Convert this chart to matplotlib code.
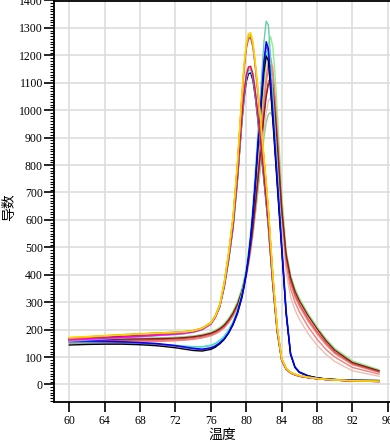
import matplotlib.pyplot as plt
from matplotlib.ticker import MultipleLocator

plt.rcParams['font.family'] = ['Noto Sans CJK SC', 'DejaVu Sans']

temps = [60, 62, 64, 66, 68, 70, 72, 73, 74, 75, 76, 76.5, 77, 77.5, 78, 78.5, 79,
         79.5, 79.75, 80, 80.25, 80.5, 80.75, 81, 81.25, 81.5, 81.75, 82, 82.25, 82.5,
         82.75, 83, 83.25, 83.5,
         84, 84.5, 85, 85.5, 86, 87, 88, 89, 90, 92, 95]

# slow-tail group (peak ~82.6, shoulder after 84)
peach = [153, 154, 155, 156, 157, 158, 160, 162, 165, 170, 178, 185, 194, 207, 226, 250, 282,
         327, 356, 390, 433, 485, 548, 620, 695, 775, 855, 930, 992, 1035, 1045, 1020, 930, 830,
         590, 410, 320, 272, 238, 185, 143, 110, 84, 50, 30]
seagreen = [165, 166, 167, 168, 169, 170, 172, 174, 177, 182, 190, 197, 206, 219, 238, 262, 293,
            338, 367, 400, 442, 490, 548, 615, 685, 760, 832, 900, 955, 985, 992, 975, 900, 810,
            610, 480, 395, 345, 310, 255, 207, 164, 128, 82, 52]
lightgreen = [158, 160, 162, 164, 166, 168, 171, 173, 176, 181, 190, 198, 208, 222, 242, 268, 303,
              352, 385, 425, 475, 535, 605, 690, 780, 880, 985, 1090, 1180, 1245, 1268, 1230, 1130, 1000,
              700, 490, 400, 350, 315, 258, 210, 167, 132, 86, 54]
salmon = [155, 156, 157, 158, 159, 160, 162, 164, 167, 172, 180, 187, 196, 209, 228, 253, 287,
          335, 367, 405, 453, 510, 580, 660, 748, 840, 940, 1040, 1120, 1180, 1190, 1150, 1050, 930,
          660, 460, 370, 320, 285, 230, 185, 145, 113, 72, 45]
coral = [150, 151, 152, 153, 155, 157, 160, 162, 165, 170, 178, 185, 194, 207, 225, 250, 283,
         330, 362, 398, 445, 500, 568, 648, 733, 825, 922, 1020, 1098, 1152, 1165, 1125, 1025, 905,
         640, 440, 350, 300, 265, 210, 165, 128, 100, 62, 38]
indianred = [158, 159, 160, 161, 162, 164, 166, 168, 171, 176, 184, 191, 200, 213, 232, 257, 290,
             337, 368, 404, 450, 505, 572, 648, 728, 815, 903, 990, 1058, 1105, 1118, 1095, 1005, 890,
             640, 462, 378, 328, 293, 238, 192, 152, 118, 76, 46]
darkred = [162, 163, 164, 165, 166, 167, 169, 171, 174, 179, 187, 194, 203, 216, 235, 260, 293,
           340, 372, 408, 454, 508, 574, 648, 728, 812, 897, 980, 1050, 1095, 1100, 1080, 990, 880,
           640, 475, 390, 340, 305, 250, 203, 160, 125, 80, 50]

# fast-tail group with a dip near 75 (peak ~82.3)
aquamarine = [152, 152, 151, 150, 148, 145, 141, 139, 137, 137, 142, 149, 160, 175, 197, 227, 270,
              332, 372, 422, 482, 558, 652, 765, 885, 1005, 1130, 1250, 1325, 1310, 1190, 1060, 925, 790,
              530, 275, 115, 65, 46, 31, 24, 20, 18, 16, 15]
turquoise = [155, 155, 154, 153, 151, 148, 143, 140, 138, 138, 143, 150, 161, 176, 198, 228, 270,
             330, 370, 415, 473, 545, 635, 738, 855, 965, 1075, 1170, 1218, 1195, 1085, 975, 858, 740,
             505, 268, 115, 65, 46, 32, 24, 20, 18, 15, 14]
violet = [156, 156, 155, 154, 151, 147, 140, 135, 130, 127, 132, 139, 150, 165, 187, 217, 257,
          315, 355, 400, 458, 528, 618, 722, 842, 950, 1062, 1170, 1235, 1215, 1095, 980, 858, 738,
          500, 262, 112, 63, 45, 31, 24, 20, 18, 15, 14]
blue_b = [160, 159, 158, 156, 153, 149, 142, 137, 132, 129, 134, 141, 152, 167, 189, 219, 260,
          318, 358, 405, 462, 535, 625, 730, 850, 960, 1070, 1180, 1250, 1225, 1105, 990, 865, 745,
          505, 265, 112, 63, 45, 31, 24, 20, 18, 15, 14]
black = [144, 146, 147, 147, 145, 141, 134, 129, 124, 122, 128, 136, 148, 164, 188, 220, 262,
         322, 362, 408, 465, 535, 622, 720, 832, 940, 1045, 1140, 1198, 1180, 1070, 960, 843, 725,
         492, 258, 110, 62, 44, 31, 24, 20, 18, 15, 14]

# early group (peak ~80.4)
navy = [167, 170, 173, 176, 179, 183, 187, 190, 194, 203, 223, 247, 285, 355, 452, 570, 745,
        955, 1042, 1104, 1133, 1136, 1108, 1052, 981, 905, 824, 742, 660, 572, 465, 362, 274, 190,
        88, 56, 42, 35, 30, 25, 21, 18, 16, 13, 11]
cyan = [158, 162, 166, 170, 174, 178, 182, 185, 190, 199, 219, 244, 282, 353, 453, 572, 750,
        962, 1052, 1115, 1145, 1148, 1120, 1062, 991, 914, 832, 750, 667, 578, 470, 365, 277, 192,
        88, 56, 42, 35, 30, 25, 21, 18, 16, 13, 11]
hotpink = [160, 164, 168, 171, 175, 179, 183, 186, 191, 200, 220, 245, 284, 356, 458, 578, 757,
           970, 1060, 1123, 1153, 1155, 1127, 1070, 998, 920, 838, 756, 672, 582, 474, 368, 279, 194,
           89, 56, 42, 35, 30, 25, 21, 18, 16, 13, 11]
crimson = [165, 168, 171, 174, 178, 182, 186, 189, 193, 202, 222, 246, 285, 358, 460, 580, 760,
           975, 1065, 1128, 1158, 1160, 1132, 1075, 1003, 925, 843, 760, 676, 585, 476, 370, 280, 195,
           90, 57, 43, 36, 31, 25, 21, 18, 16, 13, 11]
magenta = [163, 166, 169, 172, 176, 180, 184, 187, 192, 201, 221, 246, 286, 362, 470, 600, 795,
           1040, 1150, 1225, 1260, 1263, 1230, 1162, 1082, 995, 905, 815, 725, 628, 508, 392, 293, 205,
           92, 57, 43, 36, 31, 25, 21, 18, 16, 13, 11]
olive = [170, 174, 178, 182, 185, 188, 191, 193, 197, 206, 226, 252, 292, 372, 480, 610, 805,
         1050, 1158, 1230, 1265, 1268, 1235, 1168, 1090, 1000, 910, 820, 730, 632, 514, 398, 298, 208,
         96, 60, 45, 38, 33, 27, 22, 19, 17, 14, 12]
orange = [168, 172, 176, 180, 183, 186, 189, 191, 195, 204, 223, 248, 288, 365, 475, 605, 800,
          1050, 1162, 1238, 1273, 1276, 1243, 1175, 1095, 1005, 915, 825, 735, 635, 515, 395, 296, 205,
          92, 58, 43, 36, 31, 25, 21, 18, 16, 13, 11]
yellow = [172, 175, 178, 181, 184, 187, 190, 192, 196, 205, 225, 250, 290, 370, 480, 610, 810,
          1060, 1170, 1245, 1280, 1283, 1250, 1180, 1100, 1010, 920, 830, 740, 640, 520, 400, 300, 210,
          95, 60, 45, 38, 33, 27, 22, 19, 17, 14, 12]

curves = [
    (peach, '#EDBFAF'), (seagreen, '#9CC79C'), (lightgreen, '#90EE90'), (salmon, '#FA8072'),
    (coral, '#F08080'), (indianred, '#D9534F'), (darkred, '#8B1A1A'),
    (aquamarine, '#66CDAA'), (turquoise, '#40E0D0'), (violet, '#8A2BE2'), (black, '#000000'),
    (blue_b, '#0000FF'), (navy, '#00008B'), (cyan, '#00E5EE'), (hotpink, '#FF69B4'),
    (crimson, '#DC143C'), (magenta, '#FF00FF'), (olive, '#7FB000'), (orange, '#FFA500'),
    (yellow, '#FFD700'),
]

fig = plt.figure(figsize=(3.9, 4.42), dpi=100)
ax = fig.add_axes([54 / 390, 40.5 / 442, 336 / 390, 401 / 442])

for values, color in curves:
    ax.plot(temps, values, color=color, lw=1.0)

ax.set_xlim(58.27, 96.24)
ax.set_ylim(-62, 1400)
ax.xaxis.set_major_locator(MultipleLocator(4))
ax.yaxis.set_major_locator(MultipleLocator(100))
ax.yaxis.set_minor_locator(MultipleLocator(10))
ax.grid(True, color='#DDDDDD', lw=1.2)
ax.set_axisbelow(True)

for side in ['left', 'bottom', 'top']:
    ax.spines[side].set_color('black')
    ax.spines[side].set_linewidth(1.3)
ax.spines['right'].set_visible(False)

ax.tick_params(axis='both', which='major', length=7, width=1.2, direction='out')
ax.tick_params(axis='y', which='minor', length=3, width=0.8)
ax.tick_params(axis='y', pad=1)
ax.tick_params(axis='x', pad=3)
for lab in ax.get_xticklabels() + ax.get_yticklabels():
    lab.set_family('Liberation Serif')
    lab.set_fontsize(8.5)

ax.set_xlabel('温度', fontsize=10)
ax.set_ylabel('导数', fontsize=10)
ax.xaxis.set_label_coords(0.50, -0.066)
ax.yaxis.set_label_coords(-0.112, 0.485)

fig.savefig('out.png', dpi=100)
